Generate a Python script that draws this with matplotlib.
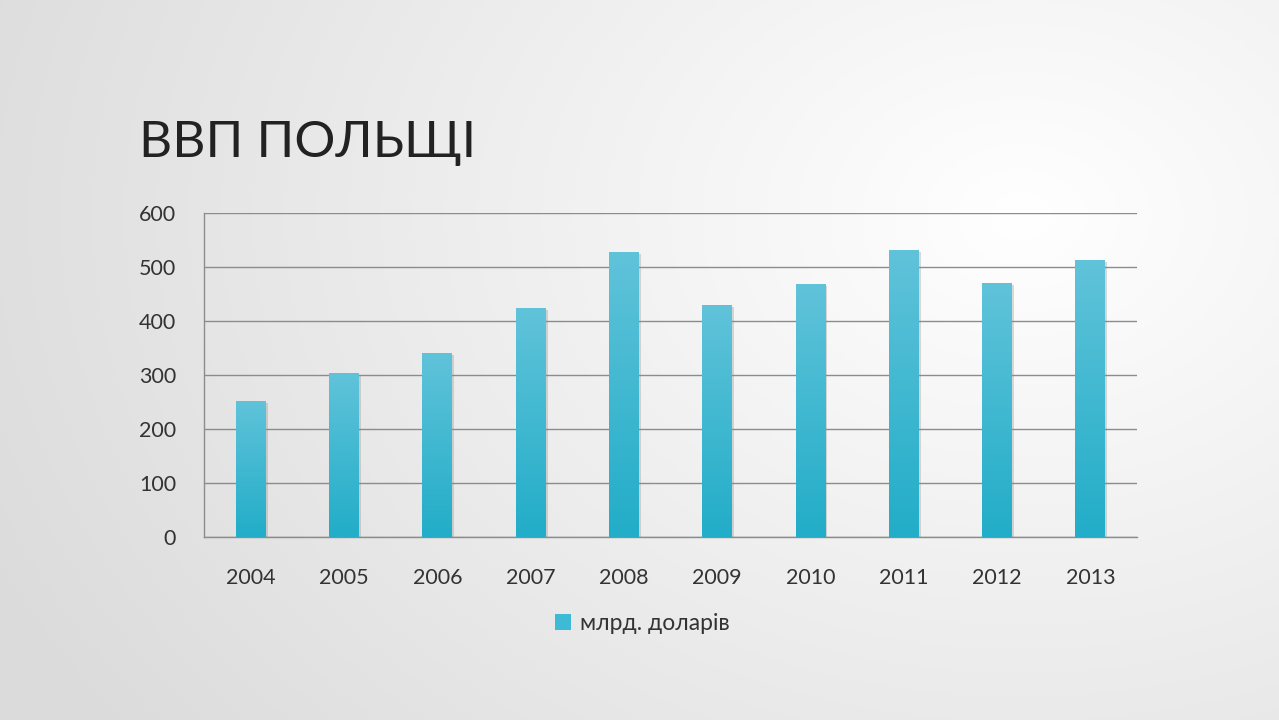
import numpy as np
import matplotlib
matplotlib.use("Agg")
import matplotlib.pyplot as plt
import matplotlib.patheffects as pe

years = ['2004', '2005', '2006', '2007', '2008', '2009', '2010', '2011', '2012', '2013']
gdp = [252, 304, 341, 424, 528, 430, 468, 531, 471, 513]
y_ticks = [0, 100, 200, 300, 400, 500, 600]
title = 'ВВП ПОЛЬЩІ'
series_name = 'млрд. доларів'

plt.rcParams['font.family'] = ['Lato', 'DejaVu Sans']

fig = plt.figure(figsize=(12.79, 7.2), dpi=100)

# slide background: light at upper right, grey towards left / bottom
bg = fig.add_axes([0, 0, 1, 1], zorder=-10)
gx, gy = np.meshgrid(np.linspace(0, 1, 320), np.linspace(0, 1, 180))
dist = np.sqrt(((gx - 0.8) * 1.2) ** 2 + ((gy - 0.3) * 0.9) ** 2)
shade = np.clip(1.0 - 0.13 * dist, 0.86, 1.0)
bg.imshow(np.dstack([shade, shade, shade]), aspect='auto', extent=[0, 1, 0, 1], origin='upper')
bg.axis('off')

fig.text(0.109, 0.782, title, fontsize=37, color='#222222', fontweight='normal')

ax = fig.add_axes([0.1595, 0.2542, 0.7295, 0.4498])
ax.patch.set_alpha(0)
x = np.arange(len(years))
bars = ax.bar(x, gdp, width=0.32, color='#3dbad6', zorder=3, label=series_name,
              path_effects=[pe.SimplePatchShadow(offset=(1.5, -1.5), shadow_rgbFace='#888888', alpha=0.3), pe.Normal()])

# vertical gradient inside each bar
grad = np.linspace(0, 1, 100).reshape(-1, 1)
top = np.array([0x60, 0xc3, 0xda]) / 255
bot = np.array([0x22, 0xad, 0xc8]) / 255
img = top + (bot - top) * grad[..., None]
for b in bars:
    im = ax.imshow(img, extent=[b.get_x(), b.get_x() + b.get_width(), 0, b.get_height()],
                   aspect='auto', origin='upper', zorder=4)
    im.set_clip_path(b)

ax.set_xlim(-0.5, len(years) - 0.5)
ax.set_ylim(0, 600)
ax.set_yticks(y_ticks)
ax.set_xticks(x)
ax.set_xticklabels(years)
ax.tick_params(length=0, labelsize=15.5, colors='#333333')
ax.tick_params(axis='x', pad=22)
ax.tick_params(axis='y', pad=20)
ax.grid(axis='y', color='#8c8c8c', linewidth=1, zorder=1)
for s in ['top', 'right']:
    ax.spines[s].set_visible(False)
for s in ['left', 'bottom']:
    ax.spines[s].set_color('#8c8c8c')
    ax.spines[s].set_linewidth(1)

leg = ax.legend(loc='upper center', bbox_to_anchor=(0.47, -0.17), frameon=False, fontsize=16.5,
                handlelength=0.7, handleheight=0.7, handletextpad=0.4, labelcolor='#333333')
for h in leg.legend_handles:
    h.set_path_effects([])

fig.savefig('out.png', dpi=100)
